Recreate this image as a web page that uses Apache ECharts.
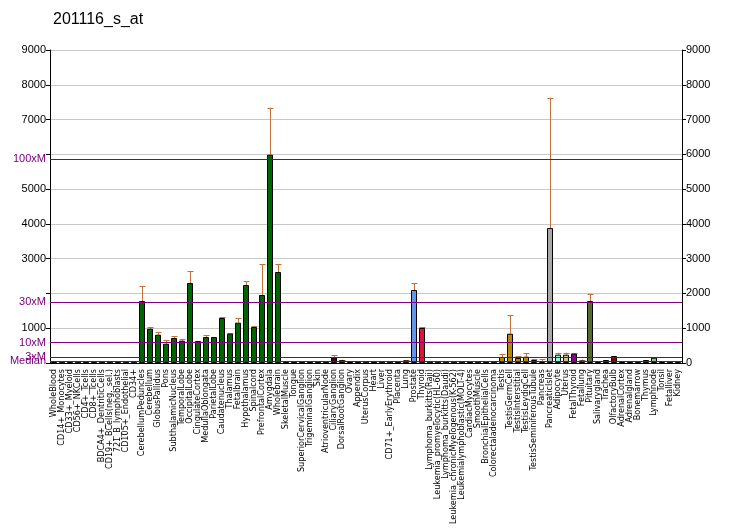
<!DOCTYPE html>
<html><head><meta charset="utf-8">
<script src="https://cdn.jsdelivr.net/npm/echarts@6/dist/echarts.min.js"></script>
<style>html,body{margin:0;padding:0;background:#fff}#c{width:732px;height:530px}</style>
</head><body><div id="c"></div>
<script>
const categories = ["WholeBlood","CD14+_Monocytes","CD33+_Myeloid","CD56+_NKCells","CD4+_Tcells","CD8+_Tcells","BDCA4+_DentriticCells","CD19+_BCells(neg._sel.)","721_B_lymphoblasts","CD105+_Endothelial","CD34+","CerebellumPeduncles","Cerebellum","GlobusPallidus","Pons","SubthalamicNucleus","TemporalLobe","OccipitalLobe","CingulateCortex","MedullaOblongata","ParietalLobe","Caudatenucleus","Thalamus","Fetalbrain","Hypothalamus","Spinalcord","PrefrontalCortex","Amygdala","Wholebrain","SkeletalMuscle","Tongue","SuperiorCervicalGanglion","TrigeminalGanglion","Skin","AtrioventricularNode","CiliaryGanglion","DorsalRootGanglion","Ovary","Appendix","UterusCorpus","Heart","Liver","CD71+_EarlyErythroid","Placenta","Lung","Prostate","Thyroid","Lymphoma_burkitts(Raji)","Leukemia_promyelocytic(HL-60)","Lymphoma_burkitts(Daudi)","Leukemia_chronicMyelogenous(K-562)","Leukemialymphoblastic(MOLT-4)","CardiacMyocytes","SmoothMuscle","BronchialEpithelialCells","Colorectaladenocarcinoma","Testis","TestisGermCell","TestisInterstitial","TestisLeydigCell","TestisSeminiferousTubule","Pancreas","PancreaticIslet","Adipocyte","Uterus","FetalThyroid","Fetallung","Pituitary","Salivarygland","Trachea","OlfactoryBulb","AdrenalCortex","Adrenalgland","Bonemarrow","Thymus","Lymphnode","Tonsil","Fetalliver","Kidney"];
const values = [35,10,30,10,35,30,10,10,30,10,10,
1783,986,814,555,719,641,2300,632,747,747,1294,842,1159,2242,1035,1955,5989,2616,
20,20,20,20,20,20,172,80,20,50,10,40,10,10,40,75,2099,1006,
10,10,10,10,10,40,10,40,10,
172,842,144,181,86,30,3881,239,239,267,70,1782,30,86,201,30,30,30,86,152,30,10,30];
const errorTops = [null,null,null,null,null,null,null,null,null,null,null,
2214,1024,891,661,776,690,2645,null,805,null,1323,871,1294,2357,1064,2846,7340,2846,
null,null,null,null,null,null,218,95,null,null,null,60,null,null,null,90,2300,1035,
null,null,null,null,null,null,null,null,null,
259,1380,190,276,115,115,7627,296,296,287,100,1992,null,null,null,null,null,null,null,null,null,null,null];
const barColors = ["#2b0a2b","#2b0a2b","#2b0a2b","#2b0a2b","#b0563c","#2b0a2b","#2b0a2b","#2b0a2b","#2b0a2b","#2b0a2b","#2b0a2b",
"#006400","#006400","#006400","#006400","#006400","#006400","#006400","#006400","#006400","#006400","#006400","#006400","#006400","#006400","#006400","#006400","#006400","#006400",
"#2b0a2b","#2b0a2b","#2b0a2b","#2b0a2b","#2b0a2b","#2b0a2b","#2b0a2b","#c0603c","#2b0a2b","#8a2be2","#2b0a2b","#c06050","#2b0a2b","#2b0a2b","#2b0a2b","#f4a080","#6495ed","#dc143c",
"#2b0a2b","#2b0a2b","#2b0a2b","#2b0a2b","#2b0a2b","#2b0a2b","#2b0a2b","#2b0a2b","#2b0a2b",
"#b8860b","#b8860b","#b8860b","#b8860b","#b8860b","#d8c8b0","#a9a9a9","#7fffd4","#cfc47f","#8b008b","#a040a0","#556b2f","#ff8c00","#9932cc","#8b0000","#2b0a2b","#fa8072","#2b0a2b","#8fbc8f","#8fbc8f","#2b0a2b","#2b0a2b","#2b0a2b"];
const leftTickLabels = {9000:"9000",8000:"8000",7000:"7000",5000:"5000",4000:"4000",3000:"3000",1000:"1000"};
const refLines = [{name:"100xM",value:5860},{name:"30xM",value:1758},{name:"10xM",value:586},{name:"3xM",value:176},{name:"Median",value:59}];

const font = "'Liberation Sans', Arial, sans-serif";
const purple = '#800080';
const chart = echarts.init(document.getElementById('c'), null, {renderer:'canvas'});
chart.setOption({
  animation:false,
  title:{text:"201116_s_at",left:53,top:12,padding:0,textStyle:{fontSize:16,fontWeight:'normal',color:'#000',fontFamily:font}},
  grid:{left:50,right:50,top:50,bottom:167,containLabel:false,outerBoundsMode:'none'},
  xAxis:{type:'category',data:categories,
    axisLine:{lineStyle:{color:'#000'}},
    axisTick:{alignWithLabel:true,interval:0,length:5,lineStyle:{color:'#000'}},
    axisLabel:{interval:0,rotate:90,fontSize:9,color:'#000',fontFamily:"'DejaVu Sans Condensed','Liberation Sans',sans-serif",margin:6}},
  yAxis:[
    {type:'value',min:0,max:9000,interval:1000,position:'left',
     axisLine:{show:true,lineStyle:{color:'#000'}},axisTick:{show:true,length:4,lineStyle:{color:'#000'}},
     axisLabel:{fontSize:11,color:'#000',fontFamily:font,margin:4,formatter:v=>leftTickLabels[v]||''},
     splitLine:{show:true,lineStyle:{color:'#c8c8c8',width:1}}},
    {type:'value',min:0,max:9000,interval:1000,position:'right',
     axisLine:{show:true,lineStyle:{color:'#000'}},axisTick:{show:true,length:4,lineStyle:{color:'#000'}},
     axisLabel:{fontSize:11,color:'#000',fontFamily:font,margin:4,formatter:v=>String(v)},
     splitLine:{show:false}}
  ],
  series:[
    {type:'bar',data:values.map((v,i)=>({value:v,itemStyle:{color:barColors[i]}})),
     barWidth:6,itemStyle:{borderColor:'#000',borderWidth:1},
     markLine:{silent:true,symbol:'none',
       lineStyle:{color:purple,type:'solid',width:1},
       label:{position:'start',color:purple,fontSize:11,fontFamily:font,distance:4,formatter:p=>p.name},
       data:refLines.map(r=>({name:r.name,yAxis:r.value,lineStyle:{color:purple,type:'solid',width:1},label:{color:purple}}))}},
    {type:'custom',z:1,
     data:errorTops.map((e,i)=>[i,values[i],e]).filter(d=>d[2]!=null),
     renderItem:(params,api)=>{
       const b=api.coord([api.value(0),api.value(1)]);
       const t=api.coord([api.value(0),api.value(2)]);
       const x=Math.round(b[0])+0.5;
       return {type:'group',children:[
         {type:'line',shape:{x1:x,y1:b[1],x2:x,y2:t[1]},style:{stroke:'#c87137',lineWidth:1}},
         {type:'line',shape:{x1:x-3,y1:Math.round(t[1])+0.5,x2:x+3,y2:Math.round(t[1])+0.5},style:{stroke:'#c87137',lineWidth:1}}
       ]};
     }}
  ]
});
</script></body></html>
